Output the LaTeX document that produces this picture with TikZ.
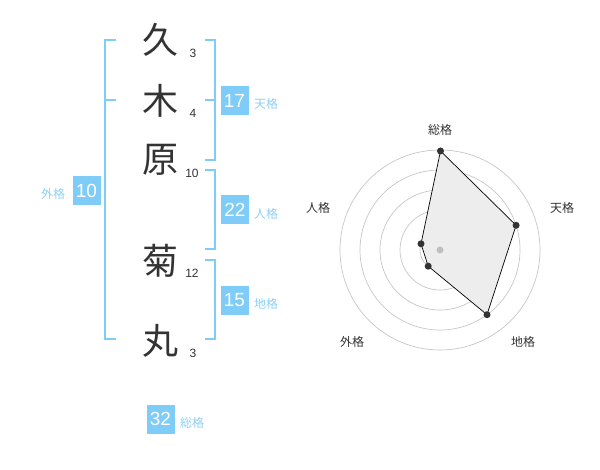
\documentclass[tikz,border=0pt]{standalone}
\usepackage{fontspec}
\setmainfont{Liberation Sans}
\newfontfamily\cjk{Noto Sans CJK JP}
\definecolor{kblue}{HTML}{80CCF8}
\definecolor{klabel}{HTML}{8FD0F5}
\definecolor{ktext}{HTML}{333333}
\begin{document}
\begin{tikzpicture}[x=1pt,y=-1pt,
  kanji/.style={text=ktext,font=\cjk\fontsize{36}{36}\selectfont,inner sep=0pt},
  cnt/.style={text=ktext,font=\fontsize{12}{12}\selectfont,inner sep=0pt},
  br/.style={draw=kblue,line width=2pt},
  badge/.style={fill=kblue,text=white,minimum width=28pt,minimum height=29pt,inner sep=0pt,font=\fontsize{19}{19}\selectfont},
  blab/.style={text=klabel,font=\cjk\fontsize{12}{12}\selectfont,inner sep=0pt},
  rlab/.style={text=ktext,font=\cjk\fontsize{12}{12}\selectfont,inner sep=0pt},
  ring/.style={draw=black!22,line width=0.7pt},
  dot/.style={circle,fill=ktext,inner sep=0pt,minimum size=7pt}]
\useasboundingbox[fill=white] (0,0) rectangle (600,470);
% characters
\node[kanji] (k1) at (160,40) {久};
\node[kanji] (k2) at (160,101) {木};
\node[kanji] (k3) at (160,160) {原};
\node[kanji] (k4) at (160,261) {菊};
\node[kanji] (k5) at (160,341) {丸};
% stroke counts
\node[cnt] (c1) at (193,53) {3};
\node[cnt] (c2) at (193,113) {4};
\node[cnt] (c3) at (192,173) {10};
\node[cnt] (c4) at (192,273) {12};
\node[cnt] (c5) at (193,353) {3};
% brackets
\draw[br] (116,40) -- (105,40) -- (105,339) -- (116,339);
\draw[br] (105,100) -- (116,100);
\draw[br] (205,40) -- (214.5,40) -- (214.5,160) -- (205,160);
\draw[br] (205,100) -- (214.5,100);
\draw[br] (205,170) -- (214.5,170) -- (214.5,249) -- (205,249);
\draw[br] (205,260) -- (214.5,260) -- (214.5,339) -- (205,339);
% badges
\node[badge] (b1) at (234.5,100.5) {17};
\node[blab] (l1) at (266,104) {天格};
\node[badge] (b2) at (235,210) {22};
\node[blab] (l2) at (266,214) {人格};
\node[badge] (b3) at (234.5,300.5) {15};
\node[blab] (l3) at (266,304) {地格};
\node[badge] (b4) at (86.5,190.5) {10};
\node[blab] (l4) at (53,194) {外格};
\node[badge] (b5) at (160.5,419) {32};
\node[blab] (l5) at (192,423) {総格};
% radar
\coordinate (O) at (440,250);
\foreach \r in {20,40,60,80,100} \draw[ring] (O) circle (\r);
\coordinate (p1) at (440.5,151);
\coordinate (p2) at (516.1,225.3);
\coordinate (p3) at (487,314.7);
\coordinate (p4) at (428.2,266.2);
\coordinate (p5) at (421,243.8);
\draw[fill=black!7,draw=black,line width=0.7pt] (p1) -- (p2) -- (p3) -- (p4) -- (p5) -- cycle;
\fill[black!25] (O) circle (3.5);
\foreach \p in {p1,p2,p3,p4,p5} \node[dot] at (\p) {};
\node[rlab] (r1) at (440,130) {総格};
\node[rlab] (r2) at (562,208) {天格};
\node[rlab] (r3) at (523,342) {地格};
\node[rlab] (r4) at (352,342) {外格};
\node[rlab] (r5) at (318,208) {人格};
\end{tikzpicture}
\end{document}
